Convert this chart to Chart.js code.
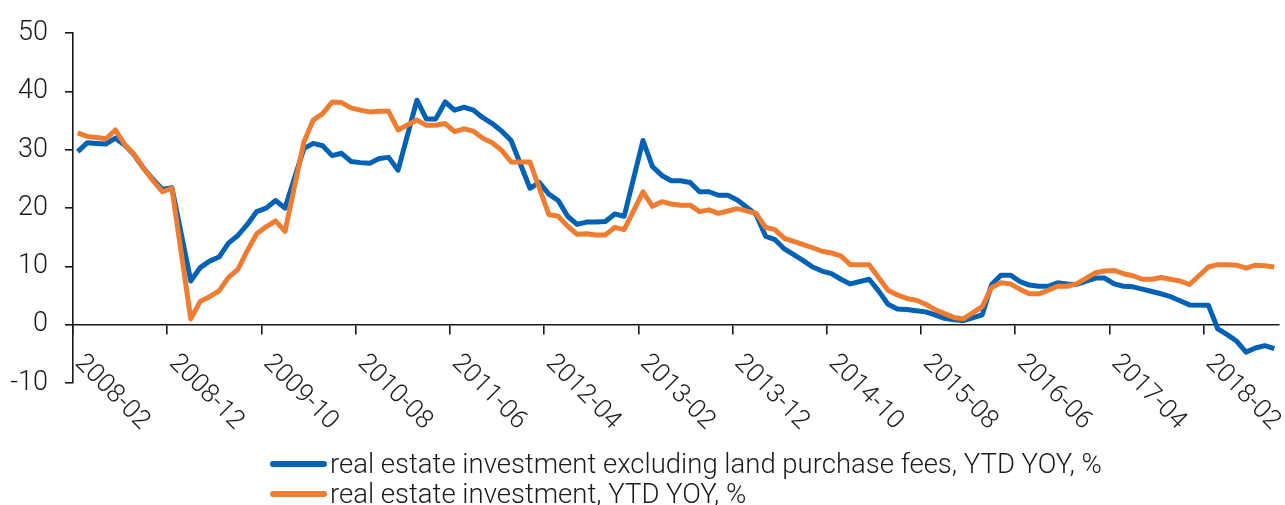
<!DOCTYPE html>
<html>
<head>
<meta charset="utf-8">
<script src="https://cdn.jsdelivr.net/npm/chart.js@4.4.1/dist/chart.umd.min.js"></script>
<style>
  body { margin: 0; background: #fff; }
  #wrap { position: relative; width: 1285px; height: 505px; overflow: hidden; }
  #chart { position: absolute; left: 0; top: 0; }
  .legend-item { position: absolute; left: 270px; height: 30px; width: 1000px; }
  .swatch { position: absolute; left: 0; width: 57px; height: 6px; border-radius: 3px; }
  .legend-text { position: absolute; left: 60px; top: 0; line-height: 30px; white-space: nowrap;
    font: 300 27.5px Roboto, "Liberation Sans", Arial, sans-serif; color: #1a1a1a; }
</style>
</head>
<body>
<div id="wrap">
  <canvas id="chart" width="1285" height="505"></canvas>
  <div class="legend-item" style="top:447px">
    <div class="swatch" style="top:13.5px;background:#0061b5"></div>
    <span class="legend-text" id="label1"></span>
  </div>
  <div class="legend-item" style="top:477px">
    <div class="swatch" style="top:13.5px;background:#ee7d32"></div>
    <span class="legend-text" id="label2"></span>
  </div>
</div>
<script>
// monthly categories, Jan values are missing in the source (YTD data starts Jan-Feb)
const months = [
  '2008-02','2008-03','2008-04','2008-05','2008-06','2008-07','2008-08','2008-09','2008-10','2008-11','2008-12',
  '2009-01','2009-02','2009-03','2009-04','2009-05','2009-06','2009-07','2009-08','2009-09','2009-10','2009-11','2009-12',
  '2010-01','2010-02','2010-03','2010-04','2010-05','2010-06','2010-07','2010-08','2010-09','2010-10','2010-11','2010-12',
  '2011-01','2011-02','2011-03','2011-04','2011-05','2011-06','2011-07','2011-08','2011-09','2011-10','2011-11','2011-12',
  '2012-01','2012-02','2012-03','2012-04','2012-05','2012-06','2012-07','2012-08','2012-09','2012-10','2012-11','2012-12',
  '2013-01','2013-02','2013-03','2013-04','2013-05','2013-06','2013-07','2013-08','2013-09','2013-10','2013-11','2013-12',
  '2014-01','2014-02','2014-03','2014-04','2014-05','2014-06','2014-07','2014-08','2014-09','2014-10','2014-11','2014-12',
  '2015-01','2015-02','2015-03','2015-04','2015-05','2015-06','2015-07','2015-08','2015-09','2015-10','2015-11','2015-12',
  '2016-01','2016-02','2016-03','2016-04','2016-05','2016-06','2016-07','2016-08','2016-09','2016-10','2016-11','2016-12',
  '2017-01','2017-02','2017-03','2017-04','2017-05','2017-06','2017-07','2017-08','2017-09','2017-10','2017-11','2017-12',
  '2018-01','2018-02','2018-03','2018-04','2018-05','2018-06','2018-07','2018-08','2018-09'
];

const tickLabels = ['2008-02','2008-12','2009-10','2010-08','2011-06','2012-04','2013-02',
  '2013-12','2014-10','2015-08','2016-06','2017-04','2018-02'];

const exLandLabel = 'real estate investment excluding land purchase fees, YTD YOY, %';
const totalLabel = 'real estate investment, YTD YOY, %';

const exLand = [
  29.7, 31.2, 31.1, 31.0, 32.0, 30.8, 29.1, 26.8, 24.9, 23.2, 23.5,
  null, 7.5, 9.8, 10.9, 11.6, 14.0, 15.3, 17.2, 19.4, 20.0, 21.3, 20.0,
  null, 30.2, 31.1, 30.7, 29.0, 29.4, 28.0, 27.8, 27.7, 28.5, 28.7, 26.5,
  null, 38.5, 35.3, 35.3, 38.2, 36.8, 37.3, 36.8, 35.5, 34.5, 33.2, 31.6,
  null, 23.4, 24.4, 22.4, 21.3, 18.6, 17.2, 17.6, 17.6, 17.7, 19.0, 18.6,
  null, 31.6, 27.1, 25.6, 24.7, 24.7, 24.4, 22.8, 22.8, 22.2, 22.2, 21.4,
  null, 18.9, 15.2, 14.6, 13.0, 12.0, 11.0, 9.9, 9.2, 8.75, 7.8, 7.0,
  null, 7.8, 5.8, 3.5, 2.7, 2.6, 2.4, 2.2, 1.7, 1.1, 0.85, 0.7,
  null, 1.7, 6.9, 8.5, 8.5, 7.4, 6.8, 6.6, 6.6, 7.2, 7.0, 6.9,
  null, 8.0, 8.0, 7.0, 6.6, 6.5, 6.1, 5.7, 5.3, 4.8, 4.1, 3.4,
  null, 3.35, -0.7, -1.7, -2.8, -4.7, -4.0, -3.6, -4.1
];

const total = [
  32.9, 32.3, 32.1, 31.9, 33.4, 30.9, 29.2, 26.8, 24.7, 22.8, 23.4,
  null, 1.0, 4.0, 4.8, 5.8, 8.1, 9.5, 12.7, 15.6, 16.8, 17.8, 16.0,
  null, 31.3, 35.1, 36.2, 38.2, 38.1, 37.2, 36.8, 36.5, 36.6, 36.6, 33.4,
  null, 35.1, 34.2, 34.2, 34.5, 33.1, 33.6, 33.2, 32.0, 31.2, 29.9, 27.9,
  null, 27.9, 23.4, 18.9, 18.6, 16.9, 15.5, 15.6, 15.4, 15.4, 16.7, 16.3,
  null, 22.8, 20.3, 21.1, 20.7, 20.5, 20.5, 19.4, 19.7, 19.1, 19.5, 19.9,
  null, 19.1, 16.7, 16.3, 14.8, 14.3, 13.75, 13.2, 12.6, 12.3, 11.8, 10.3,
  null, 10.3, 8.1, 5.9, 5.1, 4.5, 4.2, 3.5, 2.6, 1.9, 1.25, 1.0,
  null, 3.1, 6.4, 7.2, 7.0, 6.1, 5.3, 5.3, 5.9, 6.6, 6.6, 7.0,
  null, 8.9, 9.2, 9.3, 8.75, 8.4, 7.8, 7.8, 8.1, 7.8, 7.5, 6.9,
  null, 9.9, 10.3, 10.3, 10.2, 9.7, 10.2, 10.1, 9.9
];

const BLUE = '#0061b5';
const ORANGE = '#ee7d32';
const INK = '#1a1a1a';
const FONT = 'Roboto, "Liberation Sans", Arial, sans-serif';

document.getElementById('label1').textContent = exLandLabel;
document.getElementById('label2').textContent = totalLabel;

// rotated date labels hanging below the zero line, starting at each tick
const xLabels = {
  id: 'xLabels',
  afterDraw(chart) {
    const { ctx, scales: { x, y } } = chart;
    const half = (x.getPixelForValue(1) - x.getPixelForValue(0)) / 2;
    const y0 = y.getPixelForValue(0);
    ctx.save();
    ctx.font = '300 26px ' + FONT;
    ctx.fillStyle = INK;
    ctx.textAlign = 'left';
    ctx.textBaseline = 'alphabetic';
    tickLabels.forEach(label => {
      const px = x.getPixelForValue(months.indexOf(label)) - half;
      ctx.save();
      ctx.translate(px + 1, y0 + 39);
      ctx.rotate(Math.PI / 4);
      ctx.fillText(label, 0, 0);
      ctx.restore();
    });
    ctx.restore();
  }
};

new Chart(document.getElementById('chart'), {
  type: 'line',
  data: {
    labels: months,
    datasets: [
      { label: exLandLabel, data: exLand, borderColor: BLUE, order: 1 },
      { label: totalLabel, data: total, borderColor: ORANGE, order: 0 }
    ]
  },
  options: {
    responsive: false,
    animation: false,
    devicePixelRatio: 1,
    layout: { padding: { top: 31, right: 6, bottom: 122, left: 0 } },
    elements: {
      line: { borderWidth: 5, tension: 0, borderJoinStyle: 'round', fill: false },
      point: { radius: 0 }
    },
    spanGaps: true,
    plugins: { legend: { display: false }, tooltip: { enabled: false } },
    scales: {
      x: {
        type: 'category',
        offset: true,
        position: { y: 0 },
        afterFit: s => { s.height = 0; },
        border: { color: INK, width: 1.6 },
        grid: {
          offset: true,
          drawOnChartArea: false,
          tickLength: 9,
          lineWidth: 1.6,
          color: c => (c.index % 10 === 0 ? INK : 'rgba(0,0,0,0)')
        },
        ticks: { display: false }
      },
      y: {
        min: -10,
        max: 50,
        afterFit: s => { s.width = 73; },
        border: { color: INK, width: 1.6 },
        grid: { drawOnChartArea: false, tickLength: 8, lineWidth: 1.6, color: INK },
        ticks: { stepSize: 10, padding: 17, color: INK, font: { family: FONT, size: 27, weight: '300' } }
      }
    }
  },
  plugins: [xLabels]
});
</script>
</body>
</html>
